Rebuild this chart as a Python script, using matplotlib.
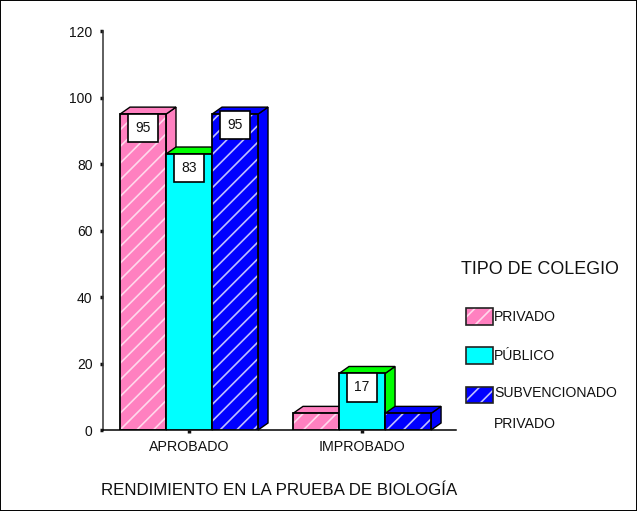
import matplotlib
matplotlib.use("Agg")
import matplotlib.pyplot as plt
from matplotlib.patches import Polygon, Patch, Rectangle
from matplotlib.legend_handler import HandlerBase

plt.rcParams['font.family'] = ['Liberation Sans', 'DejaVu Sans']
plt.rcParams['hatch.linewidth'] = 1.2

categories = ["APROBADO", "IMPROBADO"]
series_names = ["PRIVADO", "PÚBLICO", "SUBVENCIONADO\nPRIVADO"]
privado = [95, 5]
publico = [83, 17]
subvencionado = [95, 5]
yticks = [0, 20, 40, 60, 80, 100, 120]
face_colors = ["#FF80C0", "#00FFFF", "#0000FF"]
depth_colors = ["#FF80C0", "#00FF00", "#0000FF"]
hatch_colors = ["#FFD8EC", None, "#C0C0FF"]
xlabel = "RENDIMIENTO EN LA PRUEBA DE BIOLOGÍA"
legend_title = "TIPO DE COLEGIO"

W, H = 637, 511
fig = plt.figure(figsize=(W / 100, H / 100), dpi=100, facecolor="white")
fig.add_artist(Rectangle((0, 0), 1, 1, transform=fig.transFigure, fill=False,
                         edgecolor="black", linewidth=1.4))
L, R, B, T = 103, 456, 430, 31
ax = fig.add_axes([L / W, (H - B) / H, (R - L) / W, (B - T) / H])
ax.set_xlim(-0.497, 1.543)
ax.set_ylim(0, 120)

bar_w = 46 / 173
dx = 10 / 173
dy = 7 / ((B - T) / 120)
all_series = [privado, publico, subvencionado]
label_raise = [0, 0, 2]

for cat in range(len(categories)):
    for s, vals in enumerate(all_series):
        v = vals[cat]
        x0 = cat + (s - 1.5) * bar_w
        x1 = x0 + bar_w
        kw = dict(facecolor=depth_colors[s], edgecolor="black", linewidth=1.0,
                  clip_on=False, zorder=2 + cat * 3 + s)
        ax.add_patch(Polygon([(x1, 0), (x1 + dx, dy), (x1 + dx, v + dy), (x1, v)], **kw))
        ax.add_patch(Polygon([(x0, v), (x0 + dx, v + dy), (x1 + dx, v + dy), (x1, v)], **kw))
        z = 2.1 + cat * 3 + s
        if hatch_colors[s]:
            ax.bar(x0, v, bar_w, align="edge", color=face_colors[s],
                   edgecolor=hatch_colors[s], hatch="//", linewidth=0, zorder=z)
        else:
            ax.bar(x0, v, bar_w, align="edge", color=face_colors[s], linewidth=0, zorder=z)
        ax.bar(x0, v, bar_w, align="edge", fill=False, edgecolor="black", linewidth=1.3, zorder=z + 0.1)
        if v >= 10:
            ax.annotate(str(v), (x0 + bar_w / 2, v), xytext=(0, -10 + label_raise[s]), textcoords="offset points",
                        ha="center", va="center", fontsize=10, color="#111111", zorder=20,
                        bbox=dict(boxstyle="square,pad=0.52", facecolor="white",
                                  edgecolor="black", linewidth=1.2))

ax.set_xticks(range(len(categories)), categories)
ax.set_yticks(yticks)
ax.tick_params(axis="y", length=2.5, width=2.5, pad=5, labelsize=10, color="#111111", labelcolor="#111111")
ax.tick_params(axis="x", length=2.5, width=2.5, pad=5, labelsize=10.3, color="#111111", labelcolor="#111111")
for sp in ("top", "right"):
    ax.spines[sp].set_visible(False)
ax.spines["left"].set_linewidth(1.1)
ax.spines["left"].set_color("#333333")
ax.spines["bottom"].set_linewidth(1.1)
ax.set_xlabel(xlabel, fontsize=12.2, labelpad=20.7, color="#111111")


class SwatchHandler(HandlerBase):
    """Hatched swatch with a dark outline; lift moves it up to the first text line."""
    def __init__(self, lift=0):
        super().__init__()
        self.lift = lift

    def create_artists(self, legend, orig_handle, xdescent, ydescent, width, height, fontsize, trans):
        x = -xdescent + 3.6
        y = -ydescent + self.lift
        fill = Rectangle((x, y), width, height, facecolor=orig_handle.get_facecolor(),
                         edgecolor=orig_handle.get_edgecolor(), hatch=orig_handle.get_hatch(),
                         linewidth=0, transform=trans)
        line = Rectangle((x, y), width, height, fill=False, edgecolor="#222222",
                         linewidth=1.2, transform=trans)
        return [fill, line]


handles = [Patch(facecolor=face_colors[i], edgecolor=hatch_colors[i] or face_colors[i],
                 hatch="//" if hatch_colors[i] else None)
           for i in range(3)]
handler_map = {handles[0]: SwatchHandler(), handles[1]: SwatchHandler(), handles[2]: SwatchHandler(lift=10.5)}
leg = ax.legend(handles, series_names, title=legend_title, frameon=False, fontsize=10.1,
                title_fontsize=12.9, loc="upper left", bbox_to_anchor=(461 / W, (H - 261) / H),
                bbox_transform=fig.transFigure, handlelength=1.92, handleheight=1.42,
                handletextpad=0.43, labelspacing=1.62, alignment="left", borderpad=0, borderaxespad=0,
                handler_map=handler_map)
leg._legend_box.sep = 21.7
for t in leg.get_texts():
    t.set_linespacing(2.5)
    t.set_color("#111111")
leg.get_title().set_color("#111111")
fig.savefig("out.png", dpi=100)
